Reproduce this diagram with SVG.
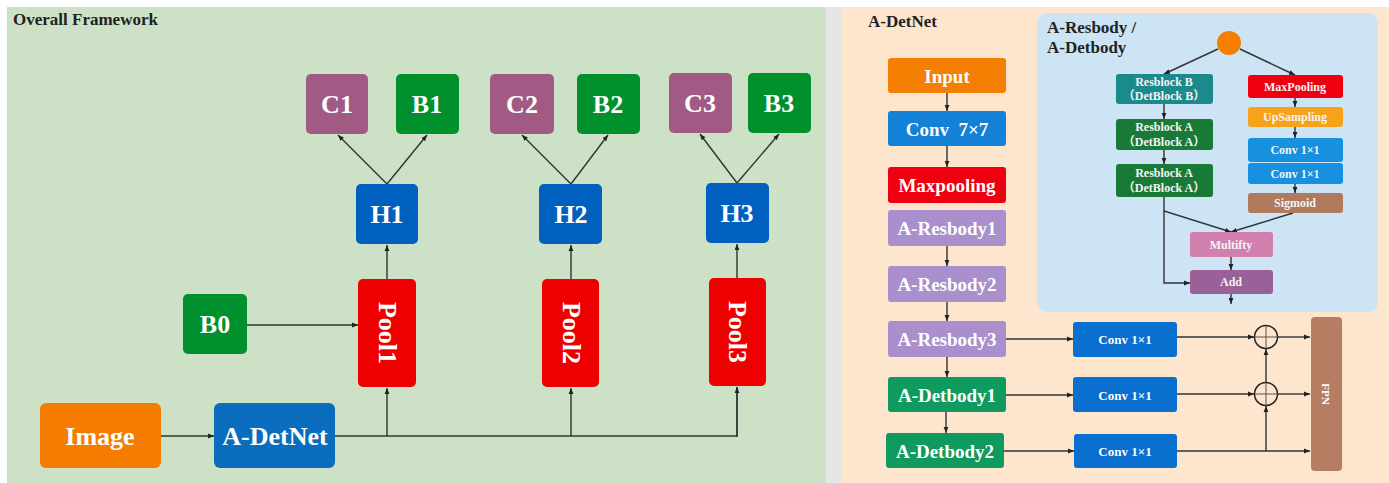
<svg xmlns="http://www.w3.org/2000/svg" width="1389" height="483" viewBox="0 0 1389 483">
<defs>
<marker id="ah" viewBox="0 0 10 10" refX="10" refY="5" markerWidth="6" markerHeight="6" markerUnits="userSpaceOnUse" orient="auto"><path d="M0,1 L10,5 L0,9 z" fill="#222"/></marker>
<style>
.t{font-family:"Liberation Serif","Times New Roman","Noto Sans CJK SC",serif;font-weight:bold;fill:#fff;text-anchor:middle;dominant-baseline:central}
.big{font-size:26px}
.mid{font-size:19px}
.sm{font-size:12px;fill:#f4f4f4}
.bc{font-size:13px}
.ln{fill:none;stroke:#333;stroke-width:1.4}
.la{fill:none;stroke:#333;stroke-width:1.4;marker-end:url(#ah)}
.ttl{font-family:"Liberation Serif","Times New Roman",serif;fill:#222}
</style>
</defs>
<rect x="0" y="0" width="1389" height="483" fill="#ffffff"/>
<rect x="7" y="7" width="819" height="476" fill="#cde1c6"/>
<rect x="826" y="7" width="16" height="476" fill="#e6e6e6"/>
<rect x="842" y="7" width="547" height="476" fill="#fde6cd"/>
<rect x="1037" y="13" width="341" height="299" rx="10" fill="#cce4f3"/>
<text class="ttl" x="13" y="25" font-size="17" font-weight="bold">Overall Framework</text>
<text class="ttl" x="868" y="27" font-size="17" font-weight="bold">A-DetNet</text>
<text class="ttl" x="1047" y="33" font-size="17" font-weight="bold">A-Resbody /</text>
<text class="ttl" x="1047" y="53" font-size="17" font-weight="bold">A-Detbody</text>

<g id="connectors">
<line class="la" x1="387" y1="184" x2="338" y2="135"/>
<line class="la" x1="387" y1="184" x2="427" y2="135"/>
<line class="la" x1="571" y1="184" x2="522" y2="135"/>
<line class="la" x1="571" y1="184" x2="608" y2="135"/>
<line class="la" x1="737" y1="183" x2="700" y2="134"/>
<line class="la" x1="737" y1="183" x2="779" y2="134"/>
<line class="la" x1="387" y1="279" x2="387" y2="245"/>
<line class="la" x1="571" y1="279" x2="571" y2="245"/>
<line class="la" x1="737" y1="278" x2="737" y2="244"/>
<line class="la" x1="247" y1="325" x2="358" y2="325"/>
<line class="la" x1="161" y1="436" x2="214" y2="436"/>
<polyline class="ln" points="335,436 737,436 737,387"/>
<line class="la" x1="387" y1="436" x2="387" y2="388"/>
<line class="la" x1="571" y1="436" x2="571" y2="388"/>
<line class="la" x1="737" y1="437" x2="737" y2="387"/>
<line class="la" x1="947" y1="93" x2="947" y2="111"/>
<line class="la" x1="947" y1="146" x2="947" y2="167"/>
<line class="la" x1="947" y1="246" x2="947" y2="266"/>
<line class="la" x1="947" y1="302" x2="947" y2="321"/>
<line class="la" x1="947" y1="357" x2="947" y2="377"/>
<line class="la" x1="946" y1="412" x2="946" y2="433"/>
<line class="la" x1="1006" y1="339" x2="1073" y2="339"/>
<line class="la" x1="1006" y1="395" x2="1073" y2="395"/>
<line class="la" x1="1004" y1="451" x2="1074" y2="451"/>
<line class="la" x1="1177" y1="337" x2="1254" y2="337"/>
<line class="la" x1="1177" y1="394" x2="1254" y2="394"/>
<line class="la" x1="1177" y1="451" x2="1310" y2="451"/>
<line class="la" x1="1266" y1="451" x2="1266" y2="406"/>
<line class="la" x1="1266" y1="382" x2="1266" y2="349"/>
<line class="la" x1="1278" y1="337" x2="1310" y2="337"/>
<line class="la" x1="1278" y1="394" x2="1310" y2="394"/>
<line class="la" x1="1218" y1="49" x2="1164" y2="74"/>
<line class="la" x1="1240" y1="49" x2="1295" y2="75"/>
<line class="la" x1="1164" y1="104" x2="1164" y2="119"/>
<line class="la" x1="1164" y1="150" x2="1164" y2="164"/>
<line class="la" x1="1295" y1="98" x2="1295" y2="107"/>
<line class="la" x1="1295" y1="127" x2="1295" y2="138"/>
<line class="la" x1="1295" y1="184" x2="1295" y2="193"/>
<polyline class="la" points="1164,197 1164,211 1231,232"/>
<line class="la" x1="1293" y1="213" x2="1231" y2="232"/>
<polyline class="la" points="1164,211 1164,283 1190,283"/>
<line class="la" x1="1231" y1="257" x2="1231" y2="270"/>
<line class="la" x1="1231" y1="294" x2="1231" y2="304"/>
</g>

<g id="C1"><rect x="306" y="74" width="62" height="60" rx="5" fill="#a05a84"/><text class="t big" x="337" y="104">C1</text></g>
<g id="B1"><rect x="396" y="74" width="63" height="60" rx="5" fill="#00902e"/><text class="t big" x="427" y="104">B1</text></g>
<g id="C2"><rect x="490" y="74" width="64" height="60" rx="5" fill="#a05a84"/><text class="t big" x="522" y="104">C2</text></g>
<g id="B2"><rect x="577" y="74" width="63" height="60" rx="5" fill="#00902e"/><text class="t big" x="608" y="104">B2</text></g>
<g id="C3"><rect x="669" y="73" width="63" height="60" rx="5" fill="#a05a84"/><text class="t big" x="700" y="103">C3</text></g>
<g id="B3"><rect x="748" y="73" width="63" height="60" rx="5" fill="#00902e"/><text class="t big" x="779" y="103">B3</text></g>
<g id="H1"><rect x="356" y="184" width="62" height="60" rx="5" fill="#0060c0"/><text class="t big" x="387" y="214">H1</text></g>
<g id="H2"><rect x="539" y="184" width="63" height="60" rx="5" fill="#0060c0"/><text class="t big" x="571" y="214">H2</text></g>
<g id="H3"><rect x="706" y="183" width="63" height="60" rx="5" fill="#0060c0"/><text class="t big" x="737" y="213">H3</text></g>
<g id="Pool1"><rect x="358" y="279" width="58" height="108" rx="5" fill="#ee0000"/><text class="t big" transform="translate(387,333) rotate(90)">Pool1</text></g>
<g id="Pool2"><rect x="542" y="279" width="57" height="108" rx="5" fill="#ee0000"/><text class="t big" transform="translate(571,333) rotate(90)">Pool2</text></g>
<g id="Pool3"><rect x="709" y="278" width="57" height="108" rx="5" fill="#ee0000"/><text class="t big" transform="translate(737,332) rotate(90)">Pool3</text></g>
<g id="B0"><rect x="183" y="294" width="64" height="60" rx="5" fill="#00902e"/><text class="t big" x="215" y="324">B0</text></g>
<g id="Image"><rect x="40" y="403" width="121" height="65" rx="6" fill="#f57c00"/><text class="t big" x="100" y="436">Image</text></g>
<g id="A-DetNet"><rect x="214" y="403" width="121" height="65" rx="6" fill="#0a6cbc"/><text class="t big" x="275" y="436">A-DetNet</text></g>

<g id="Input"><rect x="888" y="58" width="118" height="35" rx="3" fill="#f57f00"/><text class="t mid" x="947" y="76">Input</text></g>
<g id="Conv7"><rect x="888" y="111" width="118" height="35" rx="3" fill="#1480d6"/><text class="t mid" x="947" y="129">Conv&#160; 7×7</text></g>
<g id="Maxpooling"><rect x="888" y="167" width="118" height="36" rx="3" fill="#ee0010"/><text class="t mid" x="947" y="185">Maxpooling</text></g>
<g id="A-Resbody1"><rect x="888" y="210" width="118" height="36" rx="3" fill="#a98fcb"/><text class="t mid" x="947" y="228">A-Resbody1</text></g>
<g id="A-Resbody2"><rect x="888" y="266" width="118" height="36" rx="3" fill="#a98fcb"/><text class="t mid" x="947" y="284">A-Resbody2</text></g>
<g id="A-Resbody3"><rect x="888" y="321" width="118" height="36" rx="3" fill="#a98fcb"/><text class="t mid" x="947" y="339">A-Resbody3</text></g>
<g id="A-Detbody1"><rect x="888" y="377" width="118" height="35" rx="3" fill="#0f9a60"/><text class="t mid" x="947" y="395">A-Detbody1</text></g>
<g id="A-Detbody2"><rect x="886" y="433" width="118" height="35" rx="3" fill="#0f9a60"/><text class="t mid" x="945" y="451">A-Detbody2</text></g>

<g id="ConvA"><rect x="1073" y="322" width="104" height="35" rx="3" fill="#0a70d0"/><text class="t bc" x="1125" y="339">Conv 1×1</text></g>
<g id="ConvB"><rect x="1073" y="377" width="104" height="35" rx="3" fill="#0a70d0"/><text class="t bc" x="1125" y="395">Conv 1×1</text></g>
<g id="ConvC"><rect x="1074" y="434" width="103" height="34" rx="3" fill="#0a70d0"/><text class="t bc" x="1125" y="451">Conv 1×1</text></g>
<g id="Plus1"><circle cx="1266" cy="337" r="11.5" fill="none" stroke="#222" stroke-width="1.5"/><path d="M1254.5,337 H1277.5 M1266,325.5 V348.5" stroke="#555" stroke-width="1"/></g>
<g id="Plus2"><circle cx="1266" cy="394" r="11.5" fill="none" stroke="#222" stroke-width="1.5"/><path d="M1254.5,394 H1277.5 M1266,382.5 V405.5" stroke="#555" stroke-width="1"/></g>
<g id="FPN"><rect x="1311" y="317" width="31" height="154" rx="4" fill="#b57e62"/><text class="t" font-size="11" fill="#f3e0d6" transform="translate(1326,394) rotate(90)">FPN</text></g>

<g id="Circle"><circle cx="1229" cy="43" r="12" fill="#f57f00"/></g>
<g id="ResblockB"><rect x="1116" y="74" width="97" height="30" rx="3" fill="#1a8a8c"/><text class="t sm" x="1164" y="82">Resblock B</text><text class="t sm" x="1164" y="96">（DetBlock B）</text></g>
<g id="ResblockA1"><rect x="1116" y="119" width="97" height="31" rx="3" fill="#197a38"/><text class="t sm" x="1164" y="127">Resblock A</text><text class="t sm" x="1164" y="142">（DetBlock A）</text></g>
<g id="ResblockA2"><rect x="1116" y="164" width="97" height="33" rx="3" fill="#197a38"/><text class="t sm" x="1164" y="173">Resblock A</text><text class="t sm" x="1164" y="188">（DetBlock A）</text></g>
<g id="MaxPooling"><rect x="1248" y="75" width="95" height="23" rx="3" fill="#ee0010"/><text class="t sm" x="1295" y="86.5">MaxPooling</text></g>
<g id="UpSampling"><rect x="1248" y="107" width="95" height="20" rx="3" fill="#f7a21c"/><text class="t sm" x="1295" y="117">UpSampling</text></g>
<g id="Conv1"><rect x="1248" y="138" width="95" height="24" rx="3" fill="#1890e0"/><text class="t sm" x="1295" y="150">Conv 1×1</text></g>
<g id="Conv2"><rect x="1248" y="163" width="95" height="21" rx="3" fill="#1890e0"/><text class="t sm" x="1295" y="173.5">Conv 1×1</text></g>
<g id="Sigmoid"><rect x="1248" y="193" width="95" height="20" rx="3" fill="#b07a5c"/><text class="t sm" x="1295" y="203">Sigmoid</text></g>
<g id="Multifty"><rect x="1190" y="232" width="83" height="25" rx="3" fill="#d17fac"/><text class="t sm" x="1231" y="244.5">Multifty</text></g>
<g id="Add"><rect x="1190" y="270" width="83" height="24" rx="3" fill="#9a6098"/><text class="t sm" x="1231" y="282">Add</text></g>
</svg>
